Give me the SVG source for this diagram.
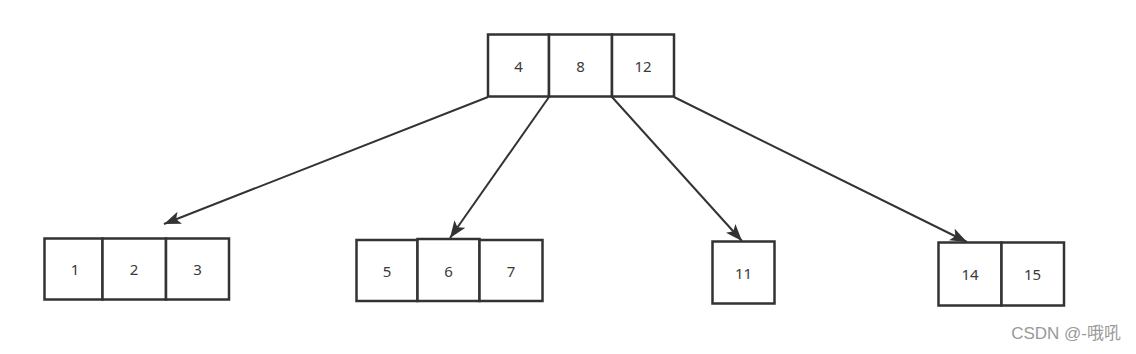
<svg xmlns="http://www.w3.org/2000/svg" width="1136" height="354" viewBox="0 0 1136 354">
<style>
.box{fill:#fff;stroke:#333;stroke-width:2.5}
.t{font-family:"Noto Sans","Liberation Sans",sans-serif;font-size:15px;fill:#3a3a3a;text-anchor:middle;dominant-baseline:central}
.e{stroke:#333;stroke-width:2;fill:none}
</style>
<defs>
<marker id="a" viewBox="0 0 17 13" refX="17" refY="6.5" markerWidth="17" markerHeight="13" markerUnits="userSpaceOnUse" orient="auto">
<path d="M0,0 L17,6.5 L0,13 L4,6.5 Z" fill="#333"/>
</marker>
</defs>
<rect width="1136" height="354" fill="#fff"/>
<g id="connectors">
<line class="e" x1="488" y1="97" x2="164" y2="224" marker-end="url(#a)"/>
<line class="e" x1="549" y1="97" x2="450" y2="238" marker-end="url(#a)"/>
<line class="e" x1="612" y1="97" x2="742" y2="241" marker-end="url(#a)"/>
<line class="e" x1="674" y1="97" x2="967" y2="242" marker-end="url(#a)"/>
</g>
<g id="root">
<rect class="box" x="488" y="34.5" width="61" height="62"/><text class="t" x="518.5" y="66">4</text>
<rect class="box" x="549" y="34.5" width="63" height="62"/><text class="t" x="580.5" y="66">8</text>
<rect class="box" x="612" y="34.5" width="62" height="62"/><text class="t" x="643" y="66">12</text>
</g>
<g id="leaf1">
<rect class="box" x="44.5" y="238.5" width="58" height="61"/><text class="t" x="75" y="269">1</text>
<rect class="box" x="102.5" y="238.5" width="63.5" height="61"/><text class="t" x="134" y="269">2</text>
<rect class="box" x="166" y="238.5" width="63" height="61"/><text class="t" x="197.5" y="269">3</text>
</g>
<g id="leaf2">
<rect class="box" x="356.5" y="240" width="61" height="61"/><text class="t" x="387" y="271">5</text>
<rect class="box" x="417.5" y="239" width="62" height="62"/><text class="t" x="448.5" y="271">6</text>
<rect class="box" x="479.5" y="240" width="63" height="61"/><text class="t" x="511" y="271">7</text>
</g>
<g id="leaf3">
<rect class="box" x="712.5" y="241.5" width="62" height="62"/><text class="t" x="743.5" y="273">11</text>
</g>
<g id="leaf4">
<rect class="box" x="938.5" y="242.5" width="63" height="63"/><text class="t" x="970" y="274">14</text>
<rect class="box" x="1001.5" y="242.5" width="62.5" height="63"/><text class="t" x="1032.5" y="274">15</text>
</g>
<text x="1121" y="333" font-family="'Liberation Sans','Noto Sans CJK SC',sans-serif" font-size="17" fill="#999" text-anchor="end" dominant-baseline="central">CSDN @-哦吼</text>
</svg>
